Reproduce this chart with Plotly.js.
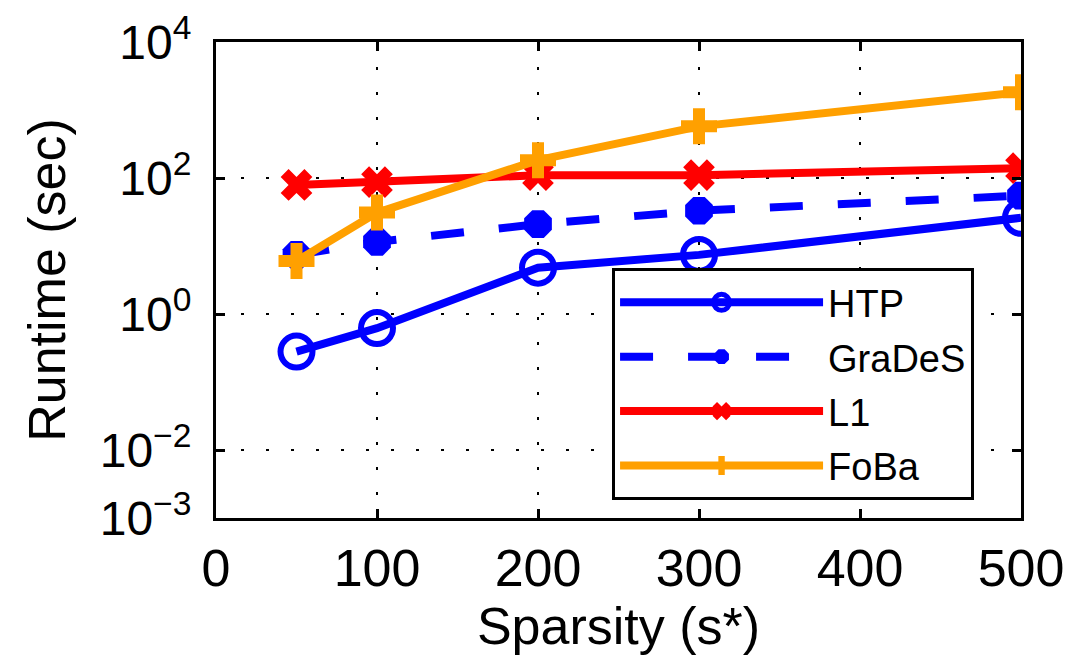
<!DOCTYPE html>
<html><head><meta charset="utf-8">
<script src="https://cdn.plot.ly/plotly-3.0.1.min.js"></script>
<style>html,body{margin:0;padding:0;background:#fff}</style>
</head><body><div id="chart" style="width:1077px;height:671px"></div>
<script>
const sparsity = [50, 100, 200, 300, 500];
const htp = [0.28, 0.62, 4.8, 7.4, 26];
const grades = [7.4, 11.5, 21, 33, 55];
const l1 = [79, 87, 110, 110, 140];
const foba = [6, 31, 183, 575, 1830];
const yTickVals = [1e-3, 1e-2, 1, 1e2, 1e4];
const yTickText = ['10<sup>−3</sup>', '10<sup>−2</sup>', '10<sup>0</sup>', '10<sup>2</sup>', '10<sup>4</sup>'];
const xTickVals = [0, 100, 200, 300, 400, 500];

const traces = [
  {x: sparsity, y: htp, name: 'HTP', legendgroup: 'a', mode: 'lines+markers',
   line: {color: '#0000ff', width: 8},
   marker: {symbol: 'circle-open', size: 32, color: '#0000ff', line: {width: 6, color: '#0000ff'}}},
  {x: sparsity, y: grades, name: 'GraDeS', legendgroup: 'b', mode: 'lines+markers',
   line: {color: '#0000ff', width: 8, dash: '33px,35px'},
   marker: {symbol: 'octagon', size: 30, color: '#0000ff'}},
  {x: sparsity, y: l1, name: 'L1', legendgroup: 'c', mode: 'lines+markers',
   line: {color: '#ff0000', width: 8},
   marker: {symbol: 'x', size: 28, color: '#ff0000'}},
  {x: sparsity, y: foba, name: 'FoBa', legendgroup: 'd', mode: 'lines+markers',
   line: {color: '#ffa000', width: 8},
   marker: {symbol: 'cross', size: 30, color: '#ffa000'}}
];

const layout = {
  width: 1077, height: 671,
  margin: {l: 216, r: 56, t: 42, b: 153},
  paper_bgcolor: '#fff', plot_bgcolor: '#fff',
  font: {family: 'Liberation Sans, Arial, sans-serif', color: '#000'},
  showlegend: true,
  legend: {x: 0.492, y: 0.525, xanchor: 'left', yanchor: 'top',
    bgcolor: '#fff', bordercolor: '#000', borderwidth: 3,
    font: {size: 38, color: '#000'}, itemwidth: 203, tracegroupgap: 2},
  xaxis: {range: [0, 500], tickvals: xTickVals, ticks: 'inside', ticklen: 9, tickwidth: 3,
    tickcolor: '#000', showline: true, linecolor: '#000', linewidth: 3, mirror: 'ticks',
    showgrid: true, gridcolor: '#000', griddash: '3px,22px', gridwidth: 2.5,
    zeroline: false, tickfont: {size: 52}, ticklabelstandoff: 3,
    title: {text: 'Sparsity (s*)', font: {size: 52}, standoff: 0}},
  yaxis: {type: 'log', range: [-3, 4], tickvals: yTickVals, ticktext: yTickText,
    ticks: 'inside', ticklen: 9, tickwidth: 3, tickcolor: '#000',
    showline: true, linecolor: '#000', linewidth: 3, mirror: 'ticks',
    showgrid: true, gridcolor: '#000', griddash: '3px,22px', gridwidth: 2.5,
    zeroline: false, tickfont: {size: 48}, ticklabelstandoff: 12,
    title: {text: 'Runtime (sec)', font: {size: 52}, standoff: 18}}
};
Plotly.newPlot('chart', traces, layout, {displayModeBar: false, staticPlot: true});
</script></body></html>
